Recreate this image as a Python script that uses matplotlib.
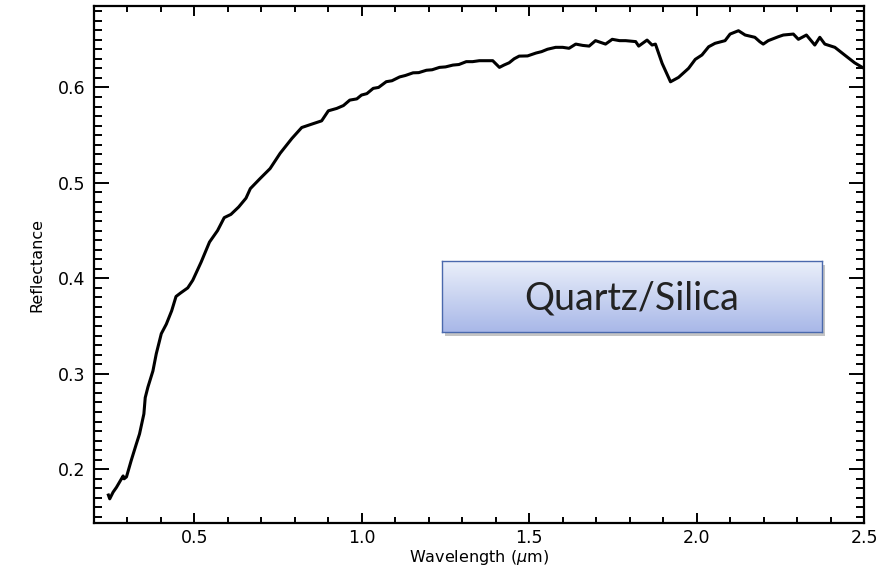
import matplotlib
matplotlib.use("Agg")
import matplotlib.pyplot as plt
import numpy as np
from matplotlib.ticker import MultipleLocator

wavelength = [0.243, 0.247, 0.257, 0.267, 0.287, 0.290, 0.297, 0.311, 0.326, 0.336, 0.349,
              0.353, 0.361, 0.376, 0.386, 0.401, 0.416, 0.432, 0.445, 0.458, 0.480,
              0.495, 0.520, 0.545, 0.569, 0.589, 0.609, 0.632, 0.654, 0.667, 0.696,
              0.726, 0.756, 0.791, 0.8205, 0.850, 0.880, 0.900, 0.925, 0.945, 0.964,
              0.985, 0.999, 1.015, 1.034, 1.050, 1.073, 1.090, 1.113, 1.130, 1.153,
              1.170, 1.193, 1.210, 1.232, 1.250, 1.272, 1.290, 1.312, 1.331, 1.351,
              1.370, 1.391, 1.411, 1.425, 1.440, 1.455, 1.470, 1.495, 1.520, 1.537,
              1.5545, 1.579, 1.600, 1.619, 1.639, 1.660, 1.679, 1.698, 1.728, 1.748,
              1.770, 1.788, 1.818, 1.827, 1.852, 1.867, 1.877, 1.897, 1.922, 1.946,
              1.976, 1.996, 2.016, 2.036, 2.055, 2.085, 2.100, 2.125, 2.145, 2.174,
              2.189, 2.199, 2.214, 2.244, 2.259, 2.289, 2.304, 2.328, 2.353, 2.368,
              2.383, 2.413, 2.442, 2.472, 2.492, 2.500]
reflectance = [0.173, 0.169, 0.176, 0.181, 0.193, 0.190, 0.192, 0.209, 0.226, 0.237, 0.258,
               0.275, 0.286, 0.303, 0.321, 0.342, 0.352, 0.366, 0.381, 0.3845, 0.390,
               0.398, 0.417, 0.438, 0.450, 0.4636, 0.467, 0.4747, 0.484, 0.494, 0.5045,
               0.515, 0.531, 0.5465, 0.558, 0.5615, 0.565, 0.5755, 0.578, 0.581, 0.5867,
               0.588, 0.592, 0.5935, 0.599, 0.600, 0.606, 0.607, 0.611, 0.6125, 0.6153,
               0.6155, 0.618, 0.6185, 0.621, 0.6215, 0.6234, 0.6240, 0.627, 0.6270, 0.628,
               0.6280, 0.628, 0.621, 0.6235, 0.6258, 0.6300, 0.6328, 0.633, 0.636, 0.6375,
               0.640, 0.642, 0.6420, 0.641, 0.6454, 0.6440, 0.6433, 0.649, 0.6454, 0.6504,
               0.6490, 0.649, 0.648, 0.6433, 0.6496, 0.6444, 0.6454, 0.6252, 0.6059, 0.6105,
               0.620, 0.6294, 0.634, 0.6426, 0.6462, 0.649, 0.6559, 0.6594, 0.6549, 0.6525,
               0.6478, 0.6454, 0.649, 0.6531, 0.6549, 0.6559, 0.6504, 0.6549, 0.6444, 0.6525,
               0.6454, 0.642, 0.634, 0.6258, 0.6216, 0.620]

xticks = [0.5, 1.0, 1.5, 2.0, 2.5]
yticks = [0.2, 0.3, 0.4, 0.5, 0.6]
label_text = "Quartz/Silica"

W, H = 894, 574
fig = plt.figure(figsize=(W / 100, H / 100), dpi=100)
ax = fig.add_axes([94 / W, 1 - 523 / H, (864 - 94) / W, (523 - 6) / H])

ax.plot(wavelength, reflectance, color="black", lw=2.2)
ax.set_xlim(0.2, 2.5)
ax.set_ylim(0.1437, 0.6853)
ax.set_xticks(xticks)
ax.set_yticks(yticks)
ax.xaxis.set_minor_locator(MultipleLocator(0.1))
ax.yaxis.set_minor_locator(MultipleLocator(0.01))
ax.tick_params(axis="both", which="both", direction="in", top=True, right=True,
               width=1.4, labelsize=12.5, colors="black")
ax.tick_params(axis="x", which="major", length=7.5, pad=4)
ax.tick_params(axis="x", which="minor", length=4)
ax.tick_params(axis="y", which="major", length=11, pad=6)
ax.tick_params(axis="y", which="minor", length=5.5)
for s in ax.spines.values():
    s.set_linewidth(1.6)
ax.set_xticklabels([f"{v:.1f}" for v in xticks])
ax.set_yticklabels([f"{v:.1f}" for v in yticks])
ax.set_xlabel("Wavelength ($\\mu$m)", fontsize=11.5, labelpad=1)
ax.set_ylabel("Reflectance", fontsize=11.5, labelpad=10)

# annotation box with gradient and shadow
bx0, by0, bx1, by1 = 442, 261, 822, 332
shadow = fig.add_axes([(bx0 + 3) / W, 1 - (by1 + 4) / H, (bx1 - bx0) / W, (by1 - by0) / H])
shadow.set_facecolor("#c4c4c4")
shadow.set_xticks([]); shadow.set_yticks([])
for s in shadow.spines.values():
    s.set_visible(False)

box = fig.add_axes([bx0 / W, 1 - by1 / H, (bx1 - bx0) / W, (by1 - by0) / H])
top = np.array([0.92, 0.94, 0.98])
bot = np.array([0.66, 0.72, 0.91])
t = np.linspace(0, 1, 100)[:, None]
grad = (top * (1 - t) + bot * t)[:, None, :]
grad = np.repeat(grad, 2, axis=1)
box.imshow(grad, aspect="auto", extent=[0, 1, 0, 1], origin="upper")
box.set_xlim(0, 1); box.set_ylim(0, 1)
box.set_xticks([]); box.set_yticks([])
for s in box.spines.values():
    s.set_color("#4a69ad")
    s.set_linewidth(1.0)
box.text(0.5, 0.47, label_text, ha="center", va="center", fontsize=27,
         family="Lato", color="#222222")

fig.savefig("out.png", dpi=100)
